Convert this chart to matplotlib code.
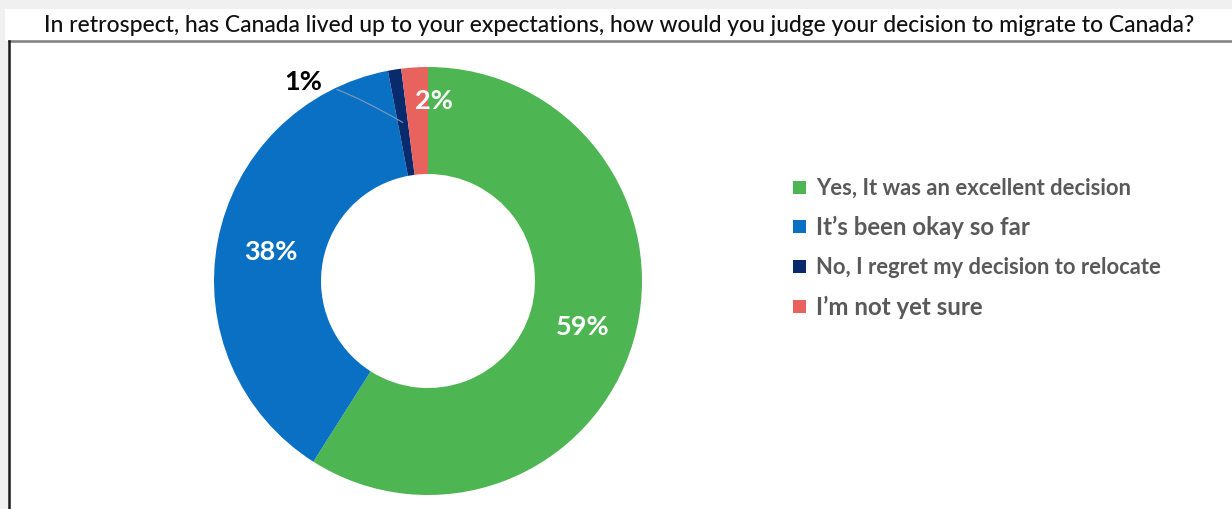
import matplotlib.pyplot as plt
from matplotlib.patches import Rectangle
import numpy as np

title = ("In retrospect, has Canada lived up to your expectations, "
         "how would you judge your decision to migrate to Canada?")
labels = ["Yes, It was an excellent decision",
          "It\u2019s been okay so far",
          "No, I regret my decision to relocate",
          "I\u2019m not yet sure"]
values = [59, 38, 1, 2]
colors = ["#4db551", "#0a70c4", "#0a2a6e", "#e8635e"]
legend_sizes = [15.8, 17.3, 15.8, 17.3]

W, H = 1232, 510
fig = plt.figure(figsize=(W / 100, H / 100), dpi=100, facecolor="#f0f0f0")
ax = fig.add_axes([0, 0, 1, 1])
plt.rcParams['font.family'] = ['Lato', 'DejaVu Sans']

# background panels (pixel coords, y up)
ax.add_patch(Rectangle((5, H - 42), W, 32, facecolor="white", edgecolor="none", zorder=0))
ax.add_patch(Rectangle((9, 0), W, H - 42, facecolor="white", edgecolor="none", zorder=0))
ax.plot([9, W], [H - 42, H - 42], color="#7f7f7f", lw=1.8, zorder=1)
ax.plot([9, 9], [0, H - 42], color="#1a1a1a", lw=1.8, zorder=1)

ax.text(619, H - 26, title, ha="center", va="center", fontsize=16.5,
        color="#111111", fontweight="medium")

cx, cy, r = 428, H - 282, 214
wedges, _ = ax.pie(values, colors=colors, startangle=90, counterclock=False,
                   radius=r, center=(cx, cy),
                   wedgeprops=dict(width=r * 0.5, edgecolor="none"))

# percentage labels
for i, (w, v) in enumerate(zip(wedges, values)):
    ang = np.deg2rad((w.theta1 + w.theta2) / 2)
    if v >= 10:
        x, y = cx + 0.75 * r * np.cos(ang), cy + 0.75 * r * np.sin(ang)
        ax.text(x, y, f"{v}%", ha="center", va="center", color="white",
                fontsize=19.5, fontweight="bold")
    elif i == 3:
        a2 = np.deg2rad(88)
        x, y = cx + 0.846 * r * np.cos(a2), cy + 0.846 * r * np.sin(a2)
        ax.text(x, y, f"{v}%", ha="center", va="center", color="white",
                fontsize=19.5, fontweight="bold")
    else:
        px, py = cx + 0.75 * r * np.cos(ang), cy + 0.75 * r * np.sin(ang)
        a2 = np.deg2rad(122)
        lx, ly = cx + 1.1 * r * np.cos(a2), cy + 1.1 * r * np.sin(a2)
        ax.annotate(f"{v}%", xy=(px, py), xytext=(lx, ly), ha="center", va="center",
                    fontsize=19.5, fontweight="bold", color="black",
                    arrowprops=dict(arrowstyle="-", color="#7f9ab8", lw=0.8,
                                    shrinkA=9, shrinkB=0,
                                    connectionstyle="angle3,angleA=0,angleB=-30"))

# legend
for i, (lab, c, fs) in enumerate(zip(labels, colors, legend_sizes)):
    y = H - (188 + 39.7 * i)
    ax.add_patch(Rectangle((793, y - 6.5), 13, 13, facecolor=c, edgecolor="none"))
    ax.text(816, y, lab, ha="left", va="center", fontsize=fs,
            fontweight="bold", color="#595959")

ax.set_xlim(0, W)
ax.set_ylim(0, H)
ax.set_aspect("equal")
ax.axis("off")
fig.savefig("out.png", dpi=100, facecolor=fig.get_facecolor())
